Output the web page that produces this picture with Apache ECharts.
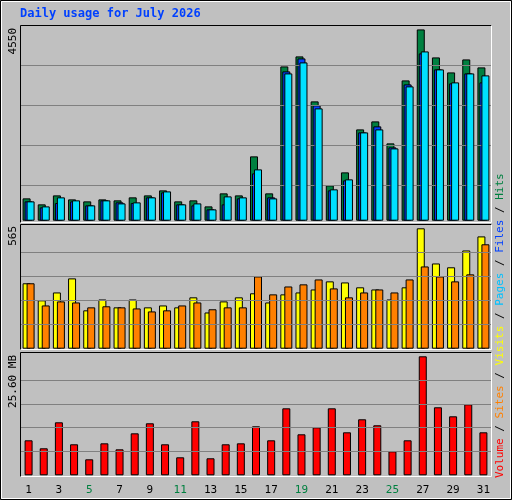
<!DOCTYPE html>
<html><head><meta charset="utf-8">
<script src="https://cdn.jsdelivr.net/npm/echarts@6/dist/echarts.min.js"></script>
<style>html,body{margin:0;padding:0;background:#c0c0c0}#c{width:512px;height:500px}</style>
</head><body><div id="c"></div>
<script>
const days = ['1','2','3','4','5','6','7','8','9','10','11','12','13','14','15','16','17','18','19','20','21','22','23','24','25','26','27','28','29','30','31'];
const weekendDays = ['4','5','11','12','18','19','25','26'];
const hits = [530,388,601,506,459,506,483,554,601,720,459,483,340,649,601,1527,649,3662,3900,2832,838,1147,2167,2357,1835,3330,4540,3876,3520,3828,3639];
const files = [459,316,419,459,364,483,435,419,554,672,388,364,269,388,530,1123,554,3544,3852,2737,720,957,2096,2239,1740,3235,3971,3591,3259,3496,3283];
const pages = [459,340,554,483,364,483,411,435,554,696,388,411,269,577,554,1218,530,3496,3757,2666,744,981,2096,2167,1716,3188,4018,3591,3283,3496,3449];
const visits = [307,227,264,330,180,231,194,231,194,203,194,241,170,222,241,260,217,255,264,278,316,311,288,278,231,288,565,400,382,461,527];
const sites = [307,203,222,217,194,199,194,189,175,180,203,217,185,194,194,339,255,292,302,325,283,241,264,278,264,325,386,339,316,349,490];
const volumeMB = [7.53,5.81,11.40,6.67,3.44,6.88,5.59,9.03,11.19,6.67,3.87,11.62,3.66,6.67,6.88,10.54,7.53,14.41,8.82,10.32,14.41,9.25,12.05,10.76,5.16,7.53,25.6,14.63,12.69,15.27,9.25];
const maxLabels = ['4550','565','25.60 MB'];
const hitsGrid = [848,1797,2746,3695];
const visitsGrid = [113,226,339,452];
const volGrid = [5.12,10.24,15.36,20.48];

const chart = echarts.init(document.getElementById('c'));
const gl = vals => ({silent:true,symbol:'none',label:{show:false},lineStyle:{color:'#808080',type:'solid',width:1},data:vals.map(v=>({yAxis:v}))});
const bs = c => ({color:c,borderColor:'#000',borderWidth:1});
const grids = [
  {left:21,right:21,top:29,height:191.7},
  {left:21,right:21,top:228.3,height:120.4},
  {left:21,right:21,top:356.3,height:119}
];
const xAx = i => ({gridIndex:i,type:'category',data:days,axisLine:{show:false},axisTick:{show:false},
  axisLabel:i===2?{show:true,margin:9,fontFamily:'DejaVu Sans Mono',fontSize:11,
    color:(v)=>weekendDays.includes(v)?'#008040':'#000'}:{show:false}});
const yAx = (i,max) => ({gridIndex:i,type:'value',min:0,max:max,splitLine:{show:false},axisLabel:{show:false},axisLine:{show:false},axisTick:{show:false}});
chart.setOption({
  animation:false,
  backgroundColor:'#c0c0c0',
  grid:grids,
  xAxis:[xAx(0),xAx(1),xAx(2)],
  yAxis:[yAx(0,4550),yAx(1,565),yAx(2,25.6)],
  graphic:[
    {type:'rect',shape:{x:0.5,y:0.5,width:511,height:499},style:{fill:'none',stroke:'#000',lineWidth:1},z:0},
    {type:'rect',shape:{x:1.5,y:1.5,width:509,height:497},style:{fill:'none',stroke:'#fff',lineWidth:1},z:0},
    ...[[25,198],[224,126],[352,125]].map(([y,h])=>({type:'group',z:0,children:[
      {type:'polyline',shape:{points:[[20.5,y+h],[20.5,y+0.5],[491.5,y+0.5]]},style:{stroke:'#000',fill:'none',lineWidth:1}},
      {type:'polyline',shape:{points:[[491.5,y+0.5],[491.5,y+h-0.5],[20.5,y+h-0.5]]},style:{stroke:'#fff',fill:'none',lineWidth:1}}
    ]})),
    {type:'text',left:20,top:8,style:{text:'Daily usage for July 2026',fill:'#0040ff',font:'bold 12px "DejaVu Sans Mono"'}},
    {type:'text',x:8,y:28,rotation:Math.PI/2,style:{text:maxLabels[0],fill:'#000',font:'11px "DejaVu Sans Mono"',align:'right',verticalAlign:'top'}},
    {type:'text',x:8,y:226,rotation:Math.PI/2,style:{text:maxLabels[1],fill:'#000',font:'11px "DejaVu Sans Mono"',align:'right',verticalAlign:'top'}},
    {type:'text',x:8,y:355,rotation:Math.PI/2,style:{text:maxLabels[2],fill:'#000',font:'11px "DejaVu Sans Mono"',align:'right',verticalAlign:'top'}},
    {type:'text',x:495,y:478,rotation:Math.PI/2,style:{
      text:'{v|Volume}{s| / }{si|Sites}{s| / }{vi|Visits}{s| / }{p|Pages}{s| / }{f|Files}{s| / }{h|Hits}',
      font:'11px "DejaVu Sans Mono"',align:'left',verticalAlign:'top',
      rich:{v:{fill:'#ff0000'},s:{fill:'#000'},si:{fill:'#ff8000'},vi:{fill:'#ffff00'},p:{fill:'#00c0ff'},f:{fill:'#0040ff'},h:{fill:'#008040'}}}}
  ],
  series:[
    {type:'bar',xAxisIndex:0,yAxisIndex:0,data:hits,barWidth:8,barGap:'-75%',itemStyle:bs('#008040'),markLine:gl(hitsGrid),z:3},
    {type:'bar',xAxisIndex:0,yAxisIndex:0,data:files,barWidth:8,barGap:'-75%',itemStyle:bs('#0040ff'),z:4},
    {type:'bar',xAxisIndex:0,yAxisIndex:0,data:pages,barWidth:8,barGap:'-75%',itemStyle:bs('#00e0ff'),z:5},
    {type:'bar',xAxisIndex:1,yAxisIndex:1,data:visits,barWidth:8,barGap:'-50%',itemStyle:bs('#ffff00'),markLine:gl(visitsGrid),z:3},
    {type:'bar',xAxisIndex:1,yAxisIndex:1,data:sites,barWidth:8,barGap:'-50%',itemStyle:bs('#ff8000'),z:4},
    {type:'bar',xAxisIndex:2,yAxisIndex:2,data:volumeMB,barWidth:8,itemStyle:bs('#ff0000'),markLine:gl(volGrid),z:3}
  ]
});
</script></body></html>
